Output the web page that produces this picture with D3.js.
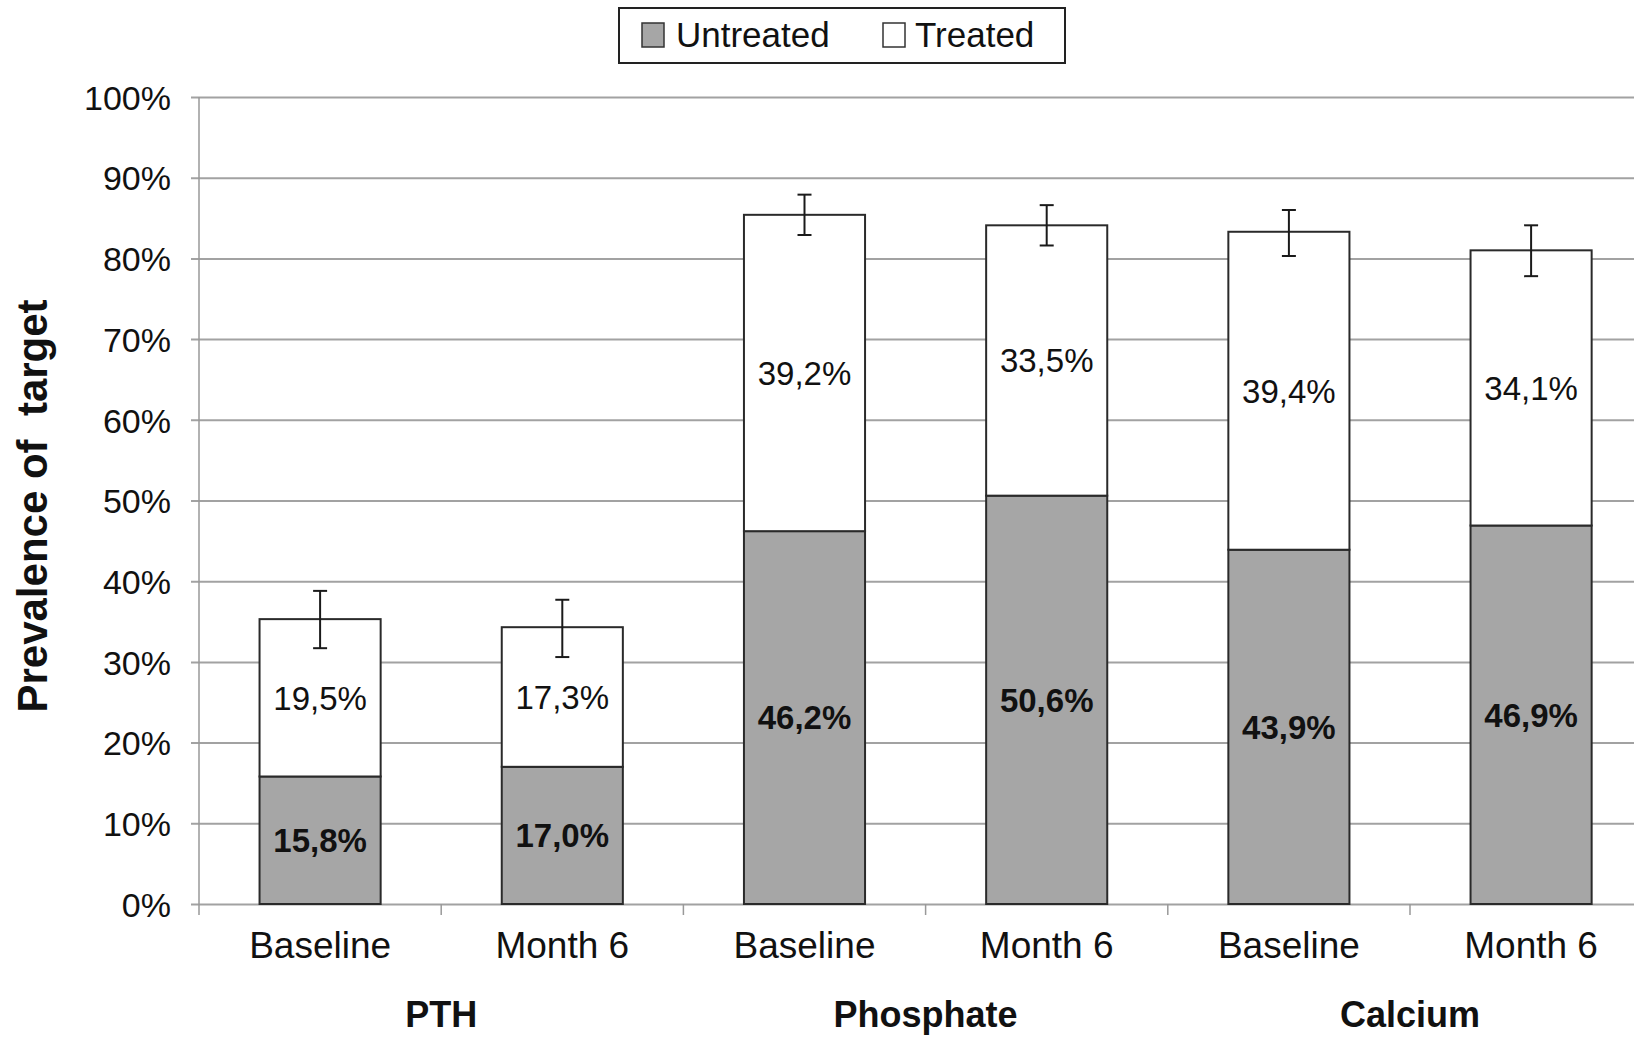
<!DOCTYPE html>
<html>
<head>
<meta charset="utf-8">
<script src="https://cdn.jsdelivr.net/npm/d3@7"></script>
<style>
  html, body { margin: 0; padding: 0; background: #fff; }
  svg { display: block; }
  text { font-family: "Liberation Sans", Arial, sans-serif; fill: #111; }
</style>
</head>
<body>
<svg id="chart" width="1634" height="1040"></svg>
<script>
// ---- data ----
const categories = ["Baseline", "Month 6", "Baseline", "Month 6", "Baseline", "Month 6"];
const groups = ["PTH", "Phosphate", "Calcium"];
const untreated = [15.8, 17.0, 46.2, 50.6, 43.9, 46.9];
const treated = [19.5, 17.3, 39.2, 33.5, 39.4, 34.1];
const errHigh = [38.8, 37.7, 87.9, 86.6, 86.0, 84.1];
const errLow = [31.7, 30.6, 82.9, 81.6, 80.3, 77.8];
const yTicks = [0, 10, 20, 30, 40, 50, 60, 70, 80, 90, 100];
const seriesNames = ["Untreated", "Treated"];
const untreatedLabels = ["15,8%", "17,0%", "46,2%", "50,6%", "43,9%", "46,9%"];
const treatedLabels = ["19,5%", "17,3%", "39,2%", "33,5%", "39,4%", "34,1%"];

// ---- layout ----
const svg = d3.select("#chart");
const x0 = 199, step = 242.2;
const idx = categories.map((d, i) => i);
const x = d3.scaleBand().domain(idx).range([x0, x0 + step * idx.length])
  .paddingInner(0.5).paddingOuter(0.25);
const y = d3.scaleLinear().domain([0, 100]).range([904, 97]);

const gridColor = "#a2a2a2";
const fillUntreated = "#a6a6a6";

// gridlines + y axis ticks
const yAxis = d3.axisLeft(y).tickValues(yTicks).tickSize(-(1634 - x0)).tickSizeOuter(0)
  .tickFormat(d => d + "%").tickPadding(28);
const gy = svg.append("g").attr("transform", `translate(${x0},0)`).call(yAxis);
gy.select(".domain").remove();
gy.selectAll(".tick line")
  .attr("x1", -8)
  .attr("stroke", gridColor).attr("stroke-width", 2);
gy.selectAll(".tick text")
  .attr("font-size", 34).attr("fill", "#111")
  .style("font-family", "'Liberation Sans', Arial, sans-serif")
  .attr("dy", "0.36em");

// y axis line
svg.append("line")
  .attr("x1", x0).attr("x2", x0).attr("y1", y(100)).attr("y2", y(0) + 11)
  .attr("stroke", "#999").attr("stroke-width", 1.5);

// x axis category separators
const sepG = svg.append("g");
for (let i = 1; i < categories.length; i++) {
  const sx = x(i) - x.step() * x.paddingInner() / 2;
  sepG.append("line").attr("x1", sx).attr("x2", sx)
    .attr("y1", y(0)).attr("y2", y(0) + 11)
    .attr("stroke", "#999").attr("stroke-width", 1.5);
}

// bars
const barG = svg.append("g");
barG.selectAll("rect.untreated").data(idx).join("rect")
  .attr("class", "untreated")
  .attr("x", i => x(i)).attr("width", x.bandwidth())
  .attr("y", i => y(untreated[i])).attr("height", i => y(0) - y(untreated[i]))
  .attr("fill", fillUntreated).attr("stroke", "#2a2a2a").attr("stroke-width", 2);
barG.selectAll("rect.treated").data(idx).join("rect")
  .attr("class", "treated")
  .attr("x", i => x(i)).attr("width", x.bandwidth())
  .attr("y", i => y(untreated[i] + treated[i]))
  .attr("height", i => y(untreated[i]) - y(untreated[i] + treated[i]))
  .attr("fill", "#fff").attr("stroke", "#2a2a2a").attr("stroke-width", 2);

// error bars
const errG = svg.append("g").attr("stroke", "#1a1a1a").attr("stroke-width", 2);
idx.forEach(i => {
  const cx = x(i) + x.bandwidth() / 2;
  errG.append("line").attr("x1", cx).attr("x2", cx).attr("y1", y(errHigh[i])).attr("y2", y(errLow[i]));
  errG.append("line").attr("x1", cx - 7).attr("x2", cx + 7).attr("y1", y(errHigh[i])).attr("y2", y(errHigh[i]));
  errG.append("line").attr("x1", cx - 7).attr("x2", cx + 7).attr("y1", y(errLow[i])).attr("y2", y(errLow[i]));
});

// value labels
const labG = svg.append("g").attr("text-anchor", "middle");
labG.selectAll("text.u").data(idx).join("text")
  .attr("class", "u")
  .attr("x", i => x(i) + x.bandwidth() / 2)
  .attr("y", i => y(untreated[i] / 2))
  .attr("dy", "0.36em")
  .attr("font-size", 33).attr("font-weight", "bold")
  .text(i => untreatedLabels[i]);
labG.selectAll("text.t").data(idx).join("text")
  .attr("class", "t")
  .attr("x", i => x(i) + x.bandwidth() / 2)
  .attr("y", i => y(untreated[i] + treated[i] / 2))
  .attr("dy", "0.36em")
  .attr("font-size", 33)
  .text(i => treatedLabels[i]);

// category labels
svg.append("g").attr("text-anchor", "middle")
  .selectAll("text").data(idx).join("text")
  .attr("x", i => x(i) + x.bandwidth() / 2)
  .attr("y", 958)
  .attr("font-size", 37)
  .text(i => categories[i]);

// group labels
svg.append("g").attr("text-anchor", "middle")
  .selectAll("text").data(groups).join("text")
  .attr("x", (g, k) => (x(2 * k) + x(2 * k + 1) + x.bandwidth()) / 2)
  .attr("y", 1027)
  .attr("font-size", 36).attr("font-weight", "bold")
  .text(g => g);

// y axis title
svg.append("text")
  .attr("transform", "translate(47,506) rotate(-90)")
  .attr("text-anchor", "middle")
  .attr("font-size", 42).attr("font-weight", "bold")
  .attr("xml:space", "preserve")
  .style("white-space", "pre")
  .text("Prevalence of  target");

// legend
const leg = svg.append("g");
leg.append("rect").attr("x", 619).attr("y", 8).attr("width", 446).attr("height", 55)
  .attr("fill", "#fff").attr("stroke", "#222").attr("stroke-width", 2);
const legItems = [
  { name: seriesNames[0], fill: fillUntreated, sx: 642, tx: 676 },
  { name: seriesNames[1], fill: "#fff", sx: 883, tx: 915 }
];
legItems.forEach(it => {
  leg.append("rect").attr("x", it.sx).attr("y", 23).attr("width", 22).attr("height", 24)
    .attr("fill", it.fill).attr("stroke", "#333").attr("stroke-width", 1.5);
  leg.append("text").attr("x", it.tx).attr("y", 47).attr("font-size", 35).text(it.name);
});
</script>
</body>
</html>
